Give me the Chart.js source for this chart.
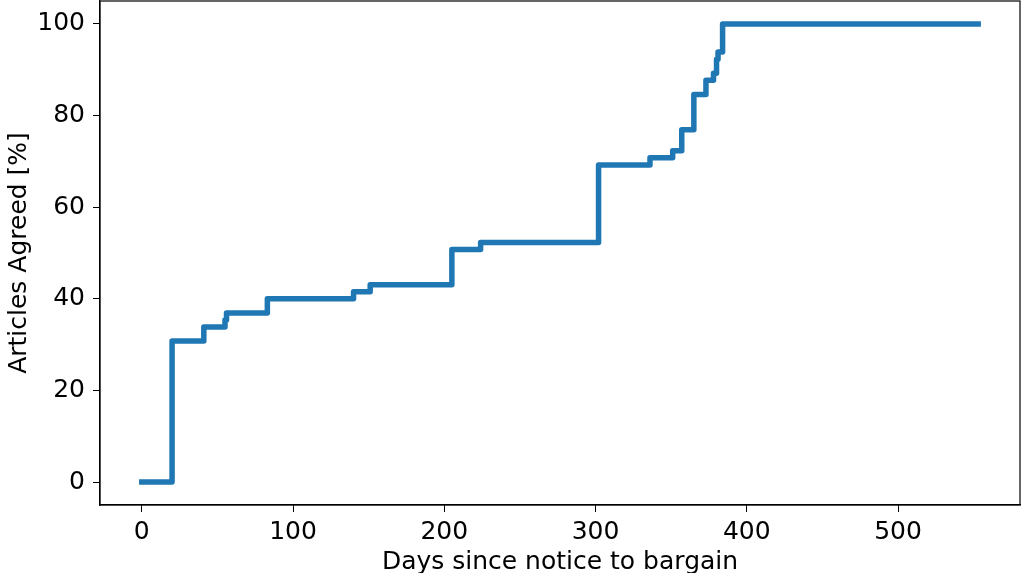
<!DOCTYPE html>
<html>
<head>
<meta charset="utf-8">
<script src="https://cdn.jsdelivr.net/npm/chart.js@4/dist/chart.umd.min.js"></script>
<style>
  html, body { margin: 0; padding: 0; background: #fff; overflow: hidden; }
  #wrap { width: 1023px; height: 600px; position: relative; }
</style>
</head>
<body>
<div id="wrap"><canvas id="myChart"></canvas></div>
<script>
// step data: share of articles agreed, holds from each day onwards
const days = [0, 20, 41, 55, 56, 83, 140, 151, 205, 224, 302, 336, 351, 357, 365, 373, 378, 380, 381, 384, 553];
const agreed = [0, 30.77, 33.85, 35.38, 36.92, 40.0, 41.54, 43.08, 50.77, 52.31, 69.23, 70.77, 72.31, 76.92, 84.62, 87.69, 89.23, 92.31, 93.85, 100, 100];
const xTicks = [0, 100, 200, 300, 400, 500];
const yTicks = [0, 20, 40, 60, 80, 100];

const font = { family: 'DejaVu Sans', size: 25 };

// draw the top and right spines too
const frame = {
    id: 'frame',
    afterDraw(chart) {
        const { ctx, chartArea: a } = chart;
        ctx.save();
        ctx.strokeStyle = '#000';
        ctx.lineWidth = 1.2;
        ctx.strokeRect(a.left, a.top, a.right - a.left, a.bottom - a.top);
        ctx.restore();
    }
};

var ctx = document.getElementById('myChart').getContext('2d');
new Chart(ctx, {
    type: 'line',
    data: {
        datasets: [{
            data: days.map((d, i) => ({ x: d, y: agreed[i] })),
            borderColor: '#1f77b4',
            borderWidth: 5.5,
            borderCapStyle: 'square',
            borderJoinStyle: 'round',
            pointRadius: 0,
            stepped: true,
            fill: false
        }]
    },
    options: {
        responsive: true,
        maintainAspectRatio: false,
        animation: false,
        layout: { padding: { top: 1, right: 3, left: 0, bottom: 0 } },
        plugins: { legend: { display: false }, tooltip: { enabled: false } },
        scales: {
            x: {
                type: 'linear',
                min: -27.65,
                max: 580.65,
                afterBuildTicks: s => { s.ticks = xTicks.map(v => ({ value: v })); },
                afterFit: s => { s.height = 95; },
                grid: { drawOnChartArea: false, tickLength: 7, tickColor: '#000' },
                border: { color: '#000', width: 1.2 },
                ticks: { font: font, color: '#000', padding: 5, maxRotation: 0 },
                title: { display: true, text: 'Days since notice to bargain', font: font, color: '#000', padding: { top: 0, bottom: 23 } }
            },
            y: {
                min: -5,
                max: 105,
                afterBuildTicks: s => { s.ticks = yTicks.map(v => ({ value: v })); },
                afterFit: s => { s.width = 100; s.paddingTop = 0; s.paddingBottom = 0; },
                grid: { drawOnChartArea: false, tickLength: 7, tickColor: '#000' },
                border: { color: '#000', width: 1.2 },
                ticks: { font: font, color: '#000', padding: 8 },
                title: { display: true, text: 'Articles Agreed [%]', font: font, color: '#000', padding: { top: 4, bottom: 0 } }
            }
        }
    },
    plugins: [frame]
});
</script>
</body>
</html>
